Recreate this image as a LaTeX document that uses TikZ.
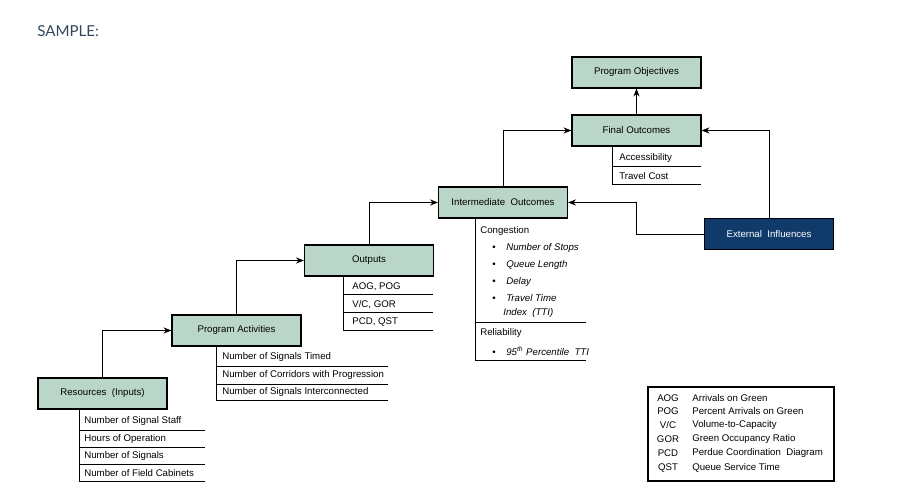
\documentclass[tikz,border=0pt]{standalone}
\usepackage{fontspec}
\setmainfont{Liberation Sans}
\newfontfamily\samplefont{Lato}
\usetikzlibrary{arrows.meta}
\definecolor{boxgreen}{HTML}{BAD6C9}
\definecolor{navy}{HTML}{0F3A6A}
\definecolor{samplegray}{HTML}{33475B}

\tikzset{
  stage/.style={draw=black,line width=0.65pt,fill=boxgreen,minimum width=2.58cm,minimum height=0.62cm,inner sep=0pt,font=\fontsize{5.5}{7}\selectfont},
  item/.style={anchor=west,inner sep=0pt,font=\fontsize{5.5}{7}\selectfont},
  conn/.style={line width=0.5pt,-{Stealth[length=4.5pt,width=3.5pt]}},
  rule/.style={line width=0.5pt}
}

\begin{document}
\begin{tikzpicture}[x=0.02cm,y=-0.02cm]
  \useasboundingbox (0,0) rectangle (904,500);
  \node[anchor=west,inner sep=0pt,text=samplegray,font=\samplefont\fontsize{8.6}{10}\selectfont] (title) at (37,31) {SAMPLE:};

  % stages
  \node[stage] (obj) at (636.5,72.5) {Program Objectives};
  \node[stage] (fin) at (636.5,130.5) {Final Outcomes};
  \node[stage] (int) at (503,202.5) {Intermediate~~Outcomes};
  \node[stage] (out) at (369,260.5) {Outputs};
  \node[stage] (act) at (236.5,330.5) {Program Activities};
  \node[stage] (res) at (102.5,393.5) {Resources~~(Inputs)};
  \node[stage,fill=navy,text=white] (ext) at (769,234) {External~~Influences};

  % connectors
  \draw[conn] (res.north) |- (act.west);
  \draw[conn] (act.north) |- (out.west);
  \draw[conn] (out.north) |- (int.west);
  \draw[conn] (int.north) |- (fin.west);
  \draw[conn] (fin.north) -- (obj.south);
  \draw[conn] (ext.north) |- (fin.east);
  \draw[conn] (ext.west) -- ++(-68,0) |- (int.east);

  % measures under each stage
  \draw[rule] (79,409) -- (79,481);
  \foreach \y in {430,447,464,481} \draw[rule] (79,\y) -- (205,\y);
  \foreach \y/\t [count=\i] in {421/Number of Signal Staff,439/Hours of Operation,456/Number of Signals,473/Number of Field Cabinets}
    \node[item] (res\i) at (84,\y) {\t};

  \draw[rule] (216,346) -- (216,400);
  \foreach \y in {366,384,400} \draw[rule] (216,\y) -- (388,\y);
  \foreach \y/\t [count=\i] in {357/Number of Signals Timed,375/Number of Corridors with Progression,392/Number of Signals Interconnected}
    \node[item] (act\i) at (222,\y) {\t};

  \draw[rule] (343,276) -- (343,330);
  \foreach \y in {294,312,330} \draw[rule] (343,\y) -- (433,\y);
  \foreach \y/\t [count=\i] in {287/{AOG, POG},305/{V/C, GOR},322/{PCD, QST}}
    \node[item] (out\i) at (352,\y) {\t};

  \draw[rule] (612,146) -- (612,184);
  \foreach \y in {166,184} \draw[rule] (612,\y) -- (701,\y);
  \foreach \y/\t [count=\i] in {158/Accessibility,176/Travel Cost}
    \node[item] (fin\i) at (619,\y) {\t};

  \draw[rule] (475,218) -- (475,360);
  \foreach \y in {322,360} \draw[rule] (475,\y) -- (586,\y);
  \node[item] (cong) at (480,231) {Congestion};
  \foreach \y/\t [count=\i] in {248/Number of Stops,265/Queue Length,282/Delay,298/Travel Time}
    \node[item] (cong\i) at (492,\y) {\textbullet\hspace{6pt}\textit{\t}};
  \node[item] (cong5) at (503,313) {\textit{Index~~(TTI)}};
  \node[item] (rel) at (480,333) {Reliability};
  \node[item] (rel1) at (492,351) {\textbullet\hspace{6pt}\textit{95\textsuperscript{th} Percentile~~TTI}};

  % legend
  \draw[line width=0.6pt] (648,387) rectangle (834,481);
  \foreach \y/\a/\d [count=\i] in {398/AOG/Arrivals on Green,411/POG/Percent Arrivals on Green,425/V\slash C/Volume-to-Capacity,439/GOR/Green Occupancy Ratio,453/PCD/Perdue Coordination~~Diagram,468/QST/Queue Service Time}{
    \node[inner sep=0pt,font=\fontsize{5.5}{7}\selectfont] (abbr\i) at (668,\y) {\a};
    \node[item] (def\i) at (692,\y) {\d};}
\end{tikzpicture}
\end{document}
